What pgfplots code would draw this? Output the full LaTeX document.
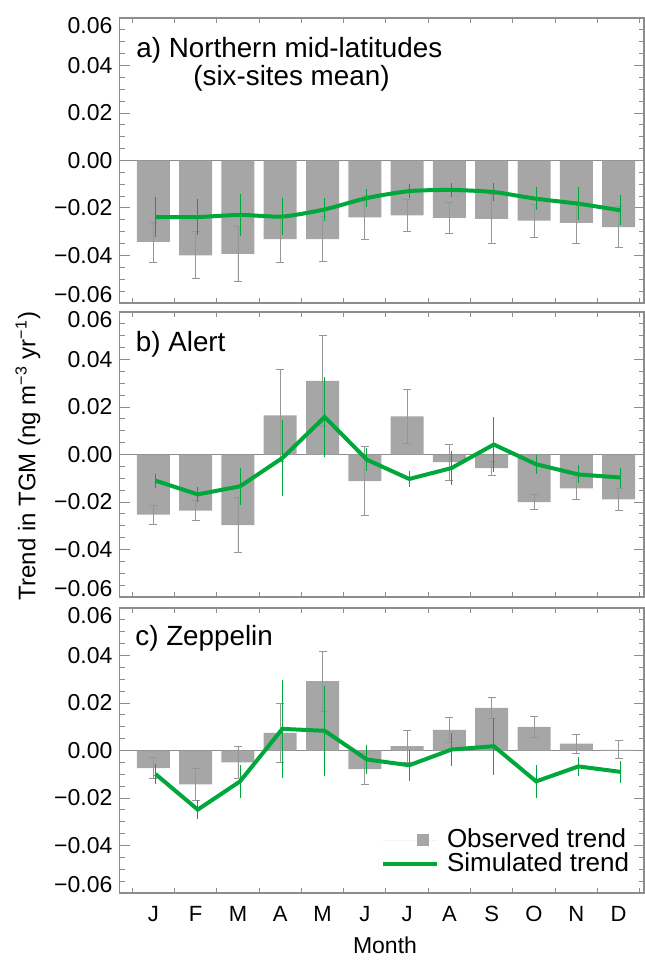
\documentclass[border=0pt]{standalone}
\usepackage{pgfplots}
\pgfplotsset{compat=1.18}
\usepackage{fontspec}
\setmainfont{Liberation Sans}
\definecolor{bargray}{RGB}{166,166,166}
\definecolor{errgray}{RGB}{150,150,150}
\definecolor{axgray}{RGB}{140,140,140}
\definecolor{simgreen}{RGB}{0,168,60}

\pgfplotstableread{
x y e
1 -0.0343 0.0084
2 -0.0399 0.0099
3 -0.0393 0.0117
4 -0.0331 0.0100
5 -0.0331 0.0095
6 -0.0239 0.0094
7 -0.0231 0.0069
8 -0.0242 0.0065
9 -0.0246 0.0102
10 -0.0253 0.0070
11 -0.0263 0.0085
12 -0.0281 0.0086
}\obsA
\pgfplotstableread{
x y e
1.05 -0.0238 0.0086
2.05 -0.0238 0.0077
3.05 -0.0229 0.0090
4.05 -0.0236 0.0077
5.05 -0.0206 0.0050
6.05 -0.0158 0.0038
7.05 -0.0129 0.0030
8.05 -0.0124 0.0030
9.05 -0.0133 0.0037
10.05 -0.0161 0.0048
11.05 -0.0182 0.0070
12.05 -0.0210 0.0063
}\simA
\pgfplotstableread{
x y e
1 -0.0253 0.0040
2 -0.0236 0.0042
3 -0.0297 0.0117
4 0.0165 0.0193
5 0.0310 0.0190
6 -0.0112 0.0145
7 0.0161 0.0115
8 -0.0032 0.0075
9 -0.0057 0.0030
10 -0.0201 0.0031
11 -0.0143 0.0045
12 -0.0189 0.0048
}\obsB
\pgfplotstableread{
x y e
1.05 -0.0110 0.0030
2.05 -0.0168 0.0033
3.05 -0.0134 0.0078
4.05 -0.0015 0.0160
5.05 0.0158 0.0168
6.05 -0.0022 0.0048
7.05 -0.0103 0.0033
8.05 -0.0057 0.0073
9.05 0.0042 0.0115
10.05 -0.0041 0.0040
11.05 -0.0084 0.0038
12.05 -0.0097 0.0042
}\simB
\pgfplotstableread{
x y e
1 -0.0074 0.0043
2 -0.0143 0.0069
3 -0.0050 0.0068
4 0.0074 0.0126
5 0.0292 0.0126
6 -0.0078 0.0065
7 0.0018 0.0067
8 0.0087 0.0052
9 0.0180 0.0045
10 0.0099 0.0045
11 0.0029 0.0040
12 0.0003 0.0038
}\obsC
\pgfplotstableread{
x y e
1.05 -0.0099 0.0042
2.05 -0.0249 0.0040
3.05 -0.0130 0.0069
4.05 0.0091 0.0205
5.05 0.0083 0.0190
6.05 -0.0038 0.0063
7.05 -0.0062 0.0065
8.05 0.0004 0.0068
9.05 0.0018 0.0120
10.05 -0.0130 0.0071
11.05 -0.0067 0.0041
12.05 -0.0090 0.0045
}\simC

\pgfplotsset{
  panel/.style={
    scale only axis, width=262.25pt, height=142.5pt,
    anchor=north west,
    xmin=0.2, xmax=12.6, ymin=-0.06, ymax=0.06,
    axis line style={axgray, line width=0.6pt},
    tick style={axgray, line width=0.5pt},
    tick align=inside,
    major tick length=5pt, minor tick length=2.5pt,
    scaled y ticks=false,
    ytick={-0.06,-0.04,-0.02,0,0.02,0.04,0.06},
    minor y tick num=3,
    yticklabels={\raisebox{4pt}[\height][\depth]{−0.06},−0.04,−0.02,0.00,0.02,0.04,\raisebox{-4pt}[\height][\depth]{0.06}},
    yticklabel style={font=\fontsize{11.5}{13}\selectfont},
    xtick={1,2,3,4,5,6,7,8,9,10,11,12},
    major x tick style={draw=none},
    minor xtick={0.5,1.5,2.5,3.5,4.5,5.5,6.5,7.5,8.5,9.5,10.5,11.5,12.5},
    xticklabel style={font=\fontsize{11}{13}\selectfont, yshift=-3pt},
    clip=false,
  },
  obs/.style={ybar, bar width=0.78, fill=bargray, draw=none,
    error bars/.cd, y dir=both, y explicit,
    error bar style={errgray, line width=0.4pt},
    error mark options={rotate=90, errgray, mark size=2pt, line width=0.4pt}},
  sim/.style={simgreen, line width=2pt,
    error bars/.cd, y dir=both, y explicit,
    error bar style={simgreen, line width=0.45pt},
    error mark=none},
}

\begin{document}
\begin{tikzpicture}
\useasboundingbox (0,0) rectangle (322pt,-480pt);

% panel a
\begin{axis}[panel, at={(59.75pt,-9pt)}, xticklabels={}]
  \addplot[axgray, line width=0.5pt, forget plot] coordinates {(0.2,0) (12.6,0)};
  \addplot[obs] table[x=x, y=y, y error=e] {\obsA};
  \addplot[smooth, tension=0.4, sim] table[x=x, y=y, y error=e] {\simA};
\end{axis}

% panel b
\begin{axis}[panel, at={(59.75pt,-156pt)}, xticklabels={}]
  \addplot[axgray, line width=0.5pt, forget plot] coordinates {(0.2,0) (12.6,0)};
  \addplot[obs] table[x=x, y=y, y error=e] {\obsB};
  \addplot[sim] table[x=x, y=y, y error=e] {\simB};
\end{axis}

% panel c
\begin{axis}[panel, at={(59.75pt,-304pt)},
  xticklabels={J,F,M,A,M,J,J,A,S,O,N,D},
  legend cell align=left,
  legend style={draw=none, fill=none, at={(0.4986,0.228)}, anchor=north west,
    inner sep=0pt, outer sep=0pt, row sep=0pt, column sep=4pt,
    nodes={inner sep=0pt, text height=9.5pt, text depth=2.5pt,
      font=\fontsize{13}{16}\selectfont}}]
  \addplot[axgray, line width=0.5pt, forget plot] coordinates {(0.2,0) (12.6,0)};
  \addplot[legend image code/.code={\path (0pt,0pt) -- (27pt,0pt); \fill[bargray] (17pt,-3pt) rectangle (23pt,3pt);}, obs] table[x=x, y=y, y error=e] {\obsC};
  \addlegendentry{Observed trend}
  \addplot[legend image code/.code={\draw[simgreen, line width=2pt] (0pt,0pt) -- (27pt,0pt);}, sim] table[x=x, y=y, y error=e] {\simC};
  \addlegendentry{Simulated trend}
\end{axis}

% panel titles
\node[anchor=north west, inner sep=0pt, align=left, font=\fontsize{13.9}{12}\selectfont] at (68pt,-18.3pt) {a) Northern mid-latitudes\\\hspace*{28.5pt}(six-sites mean)};
\node[anchor=west, inner sep=0pt, font=\fontsize{13.9}{16}\selectfont] at (67.75pt,-172pt) {b) Alert};
\node[anchor=west, inner sep=0pt, font=\fontsize{13.9}{16}\selectfont] at (67.5pt,-319pt) {c) Zeppelin};

% axis labels
\node[rotate=90, inner sep=0pt, font=\fontsize{12}{14}\selectfont] at (14pt,-228pt) {Trend in TGM (ng m\textsuperscript{−3} yr\textsuperscript{−1})};
\node[inner sep=0pt, font=\fontsize{11.5}{14}\selectfont] at (192.5pt,-472.5pt) {Month};
\end{tikzpicture}
\end{document}
